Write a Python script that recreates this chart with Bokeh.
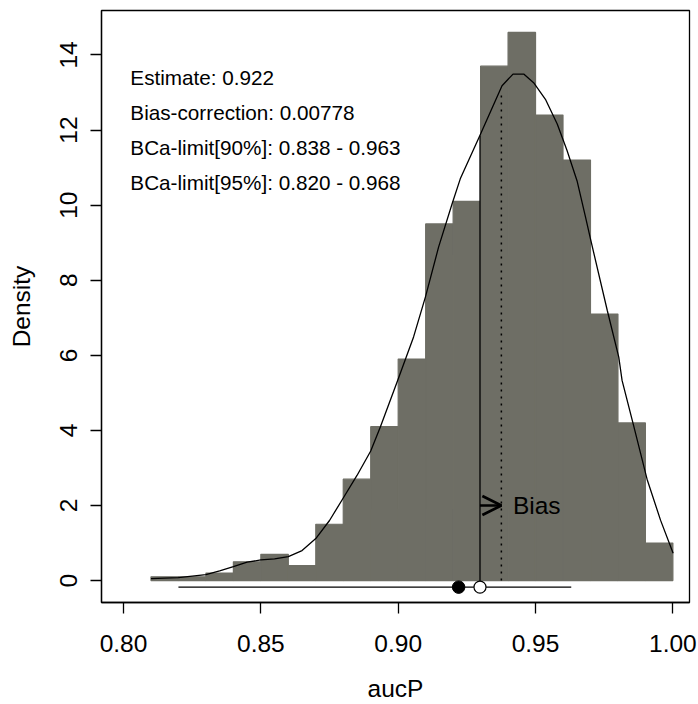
from bokeh.plotting import figure
from bokeh.models import Range1d, Arrow, OpenHead, FixedTicker
from bokeh.embed import file_html
from bokeh.resources import INLINE
from bokeh.core.properties import value

# ---- data ----
bin_left = [0.81, 0.82, 0.83, 0.84, 0.85, 0.86, 0.87, 0.88, 0.89, 0.90,
            0.91, 0.92, 0.93, 0.94, 0.95, 0.96, 0.97, 0.98, 0.99]
bin_right = [0.82, 0.83, 0.84, 0.85, 0.86, 0.87, 0.88, 0.89, 0.90, 0.91,
             0.92, 0.93, 0.94, 0.95, 0.96, 0.97, 0.98, 0.99, 1.00]
hist_density = [0.1, 0.1, 0.2, 0.5, 0.7, 0.4, 1.5, 2.7, 4.1, 5.9,
                9.5, 10.1, 13.7, 14.6, 12.4, 11.2, 7.1, 4.2, 1.0]

kde_x = [0.810, 0.820, 0.830, 0.835, 0.840, 0.845, 0.850, 0.855, 0.860, 0.865,
         0.870, 0.875, 0.880, 0.885, 0.890, 0.8935, 0.8998, 0.9056, 0.9099, 0.9147,
         0.9196, 0.9226, 0.9297, 0.9378, 0.9418, 0.9457, 0.9493, 0.9536, 0.9579, 0.9615,
         0.9651, 0.9682, 0.9700, 0.9761, 0.9803, 0.9815, 0.9858, 0.9906, 0.9955, 1.0001]
kde_y = [0.05, 0.08, 0.16, 0.26, 0.37, 0.49, 0.55, 0.58, 0.64, 0.80,
         1.12, 1.60, 2.20, 2.80, 3.45, 4.09, 5.33, 6.49, 7.55, 8.88,
         10.03, 10.70, 11.85, 13.18, 13.49, 13.49, 13.26, 12.82, 12.16, 11.45,
         10.65, 9.68, 9.10, 7.20, 5.95, 5.33, 4.10, 2.70, 1.61, 0.73]

estimate = 0.922
bias_correction = 0.00778
bca90 = [0.838, 0.963]
bca95 = [0.820, 0.968]
boot_mean = estimate + 2 * bias_correction
kde_at_corrected = 11.85
kde_at_mean = 12.96

annotation_text = [
    "Estimate: 0.922",
    "Bias-correction: 0.00778",
    "BCa-limit[90%]: 0.838 - 0.963",
    "BCa-limit[95%]: 0.820 - 0.968",
]
x_ticks = [0.80, 0.85, 0.90, 0.95, 1.00]
x_tick_labels = ["0.80", "0.85", "0.90", "0.95", "1.00"]
y_ticks = [0, 2, 4, 6, 8, 10, 12, 14]

FONT = "Liberation Sans"
BAR = "#6e6e65"

p = figure(width=698, height=704, output_backend="svg", toolbar_location=None,
           x_range=Range1d(0.79199, 1.00605), y_range=Range1d(-0.584, 15.184),
           min_border_left=101, min_border_right=9, min_border_top=10,
           min_border_bottom=101)
p.background_fill_color = "white"
p.border_fill_color = "white"
p.outline_line_color = "black"
p.outline_line_width = 1.3
p.grid.visible = False

# histogram
p.quad(left=bin_left, right=bin_right, bottom=0, top=hist_density,
       fill_color=BAR, line_color=BAR, line_width=1.2)

# density curve
p.line(kde_x, kde_y, line_color="black", line_width=1.3)

# CI line and points
ci_y = -0.175
p.segment(x0=[bca95[0]], y0=[ci_y], x1=[bca90[1]], y1=[ci_y],
          line_color="black", line_width=1.3)
p.segment(x0=[estimate + bias_correction], y0=[ci_y],
          x1=[estimate + bias_correction], y1=[kde_at_corrected],
          line_color="black", line_width=1.3)
p.segment(x0=[boot_mean], y0=[0], x1=[boot_mean], y1=[kde_at_mean],
          line_color="black", line_width=1.5, line_dash="2 5")
p.scatter([estimate], [ci_y], size=12.5, fill_color="black", line_color="black")
p.scatter([estimate + bias_correction], [ci_y], size=12, fill_color="white",
          line_color="black", line_width=1.2)

# bias arrow
p.add_layout(Arrow(end=OpenHead(size=19, line_width=2.7, line_color="black"),
                   x_start=estimate + bias_correction, y_start=2.0,
                   x_end=boot_mean, y_end=2.0,
                   line_color="black", line_width=2.7))
p.text(x=[boot_mean + 0.0042], y=[2.0], text=["Bias"], text_font=value(FONT),
       text_font_size="24.5px", text_baseline="middle", text_align="left",
       text_color="black")

# annotations
ann_y = [13.40 - 0.93 * i for i in range(len(annotation_text))]
p.text(x=[0.8025] * len(annotation_text), y=ann_y, text=annotation_text,
       text_font=value(FONT), text_font_size="20.7px", text_baseline="middle",
       text_align="left", text_color="black")

# axes
for ax in (p.xaxis[0], p.yaxis[0]):
    ax.axis_line_color = "black"
    ax.axis_line_width = 1.3
    ax.major_tick_line_color = "black"
    ax.major_tick_line_width = 1.3
    ax.major_tick_in = 0
    ax.major_tick_out = 11
    ax.minor_tick_line_color = None
    ax.major_label_text_font = FONT
    ax.major_label_text_font_size = "24.5px"
    ax.major_label_text_color = "black"
    ax.axis_label_text_font = FONT
    ax.axis_label_text_font_size = "24.5px"
    ax.axis_label_text_font_style = "normal"
    ax.axis_label_text_color = "black"

p.xaxis.ticker = FixedTicker(ticks=x_ticks)
p.xaxis.major_label_overrides = {t: l for t, l in zip(x_ticks, x_tick_labels)}
p.xaxis.major_label_standoff = 21
p.xaxis.axis_label = "aucP"
p.xaxis.axis_label_standoff = 20

p.yaxis.ticker = FixedTicker(ticks=y_ticks)
p.yaxis.major_label_orientation = "vertical"
p.yaxis.major_label_standoff = 13
p.yaxis.axis_label = "Density"
p.yaxis.axis_label_standoff = 23

open("out.html", "w").write(file_html(p, INLINE))
